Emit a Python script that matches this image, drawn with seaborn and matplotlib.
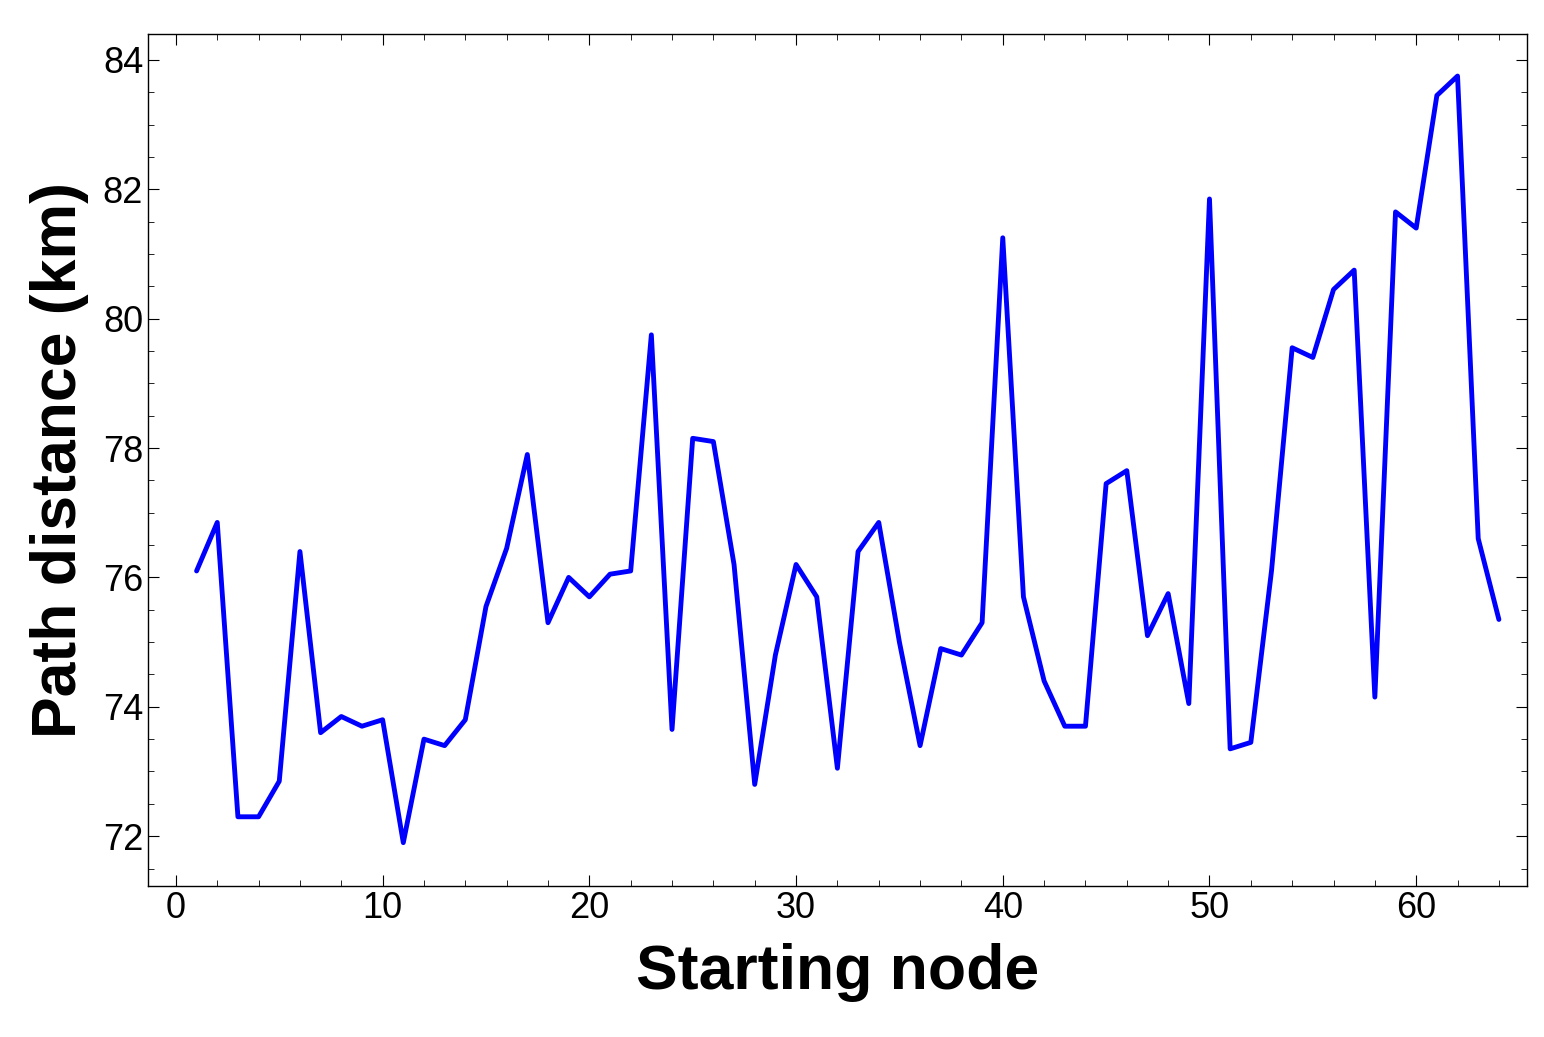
import matplotlib
matplotlib.use("Agg")
import matplotlib.pyplot as plt
from matplotlib.ticker import MultipleLocator
import seaborn as sns

nodes = list(range(1, 65))
distance = [76.1, 76.85, 72.3, 72.3, 72.85, 76.4, 73.6, 73.85, 73.7, 73.8,
            71.9, 73.5, 73.4, 73.8, 75.55, 76.45, 77.9, 75.3, 76.0, 75.7,
            76.05, 76.1, 79.75, 73.65, 78.15, 78.1, 76.2, 72.8, 74.8, 76.2,
            75.7, 73.05, 76.4, 76.85, 75.0, 73.4, 74.9, 74.8, 75.3, 81.25,
            75.7, 74.4, 73.7, 73.7, 77.45, 77.65, 75.1, 75.75, 74.05, 81.85,
            73.35, 73.45, 76.1, 79.55, 79.4, 80.45, 80.75, 74.15, 81.65, 81.4,
            83.45, 83.75, 76.6, 75.35]

sns.set_style("ticks")
plt.rcParams['font.family'] = ['Liberation Sans', 'DejaVu Sans']
plt.rcParams['text.color'] = 'black'
plt.rcParams['axes.labelcolor'] = 'black'
plt.rcParams['xtick.color'] = 'black'
plt.rcParams['ytick.color'] = 'black'
plt.rcParams['axes.edgecolor'] = 'black'

fig = plt.figure(figsize=(15.44, 10.37), dpi=100)
ax = fig.add_axes([148/1544, 1 - 886/1037, (1527-148)/1544, (886-34)/1037])
sns.lineplot(x=nodes, y=distance, color='#0000ff', linewidth=3.5, ax=ax)

ax.set_xlim(-1.35, 65.36)
ax.set_ylim(71.23, 84.4)
ax.xaxis.set_major_locator(MultipleLocator(10))
ax.xaxis.set_minor_locator(MultipleLocator(2))
ax.yaxis.set_major_locator(MultipleLocator(2))
ax.yaxis.set_minor_locator(MultipleLocator(0.5))
ax.tick_params(which='both', direction='in', top=True, right=True, labelsize=26)
ax.tick_params(which='major', length=8)
ax.tick_params(which='minor', length=4)
for s in ax.spines.values():
    s.set_linewidth(1)
ax.set_xlabel('Starting node', fontsize=45, fontweight='bold', labelpad=12)
ax.set_ylabel('Path distance (km)', fontsize=45, fontweight='bold', labelpad=10)

fig.savefig('out.png', dpi=100)
